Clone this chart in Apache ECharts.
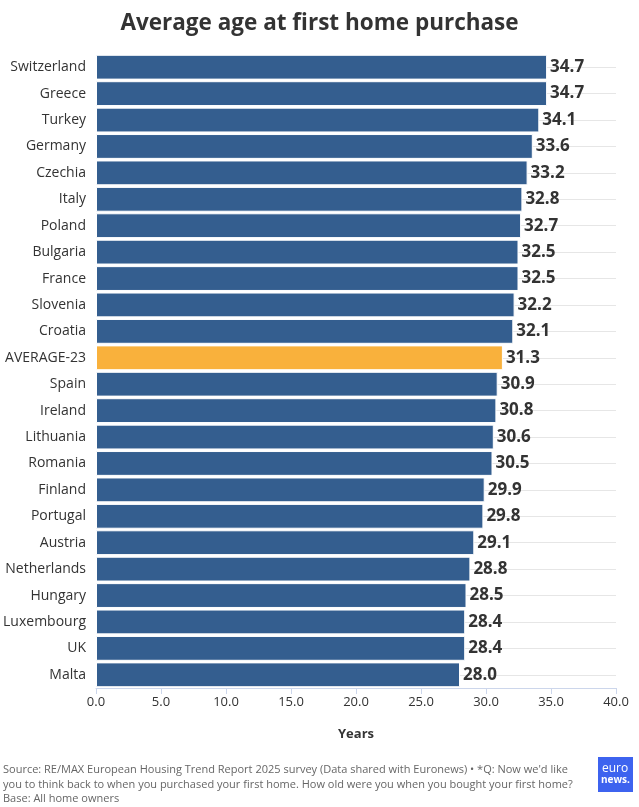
<!DOCTYPE html>
<html><head><meta charset="utf-8">
<script src="https://cdn.jsdelivr.net/npm/echarts@6/dist/echarts.min.js"></script>
<style>html,body{margin:0;padding:0;background:#fff}#c{width:639px;height:807px}</style>
</head><body><div id="c"></div>
<script>
const categories = ["Switzerland","Greece","Turkey","Germany","Czechia","Italy","Poland","Bulgaria","France","Slovenia","Croatia","AVERAGE-23","Spain","Ireland","Lithuania","Romania","Finland","Portugal","Austria","Netherlands","Hungary","Luxembourg","UK","Malta"];
const values = [34.7,34.7,34.1,33.6,33.2,32.8,32.7,32.5,32.5,32.2,32.1,31.3,30.9,30.8,30.6,30.5,29.9,29.8,29.1,28.8,28.5,28.4,28.4,28.0];
const highlight = "AVERAGE-23";
const F = '"Open Sans", sans-serif';
const chart = echarts.init(document.getElementById('c'));
chart.setOption({
  animation: false,
  title: {text: 'Average age at first home purchase', left: 'center', top: 7,
    textStyle: {fontFamily: F, fontSize: 22.5, fontWeight: 'bold', color: '#333'}},
  grid: {left: 96, right: 23, top: 54, bottom: 119, containLabel: false},
  xAxis: {type: 'value', min: 0, max: 40, interval: 5,
    name: 'Years', nameLocation: 'middle', nameGap: 40,
    nameTextStyle: {fontFamily: F, fontSize: 13, fontWeight: 'bold', color: '#333'},
    axisLine: {show: true, lineStyle: {color: '#ccd6eb'}},
    axisTick: {show: true, length: 6, lineStyle: {color: '#ccd6eb'}},
    splitLine: {show: false},
    axisLabel: {fontFamily: F, fontSize: 13, color: '#333', margin: 8, formatter: v => v.toFixed(1)}},
  yAxis: {type: 'category', data: categories, inverse: true,
    axisLine: {show: false}, axisTick: {show: false}, splitLine: {show: false},
    axisLabel: {fontFamily: F, fontSize: 14, color: '#333', margin: 10}},
  series: [
    {type: 'line', z: 1, data: [], silent: true, symbol: 'none',
      markLine: {z: 1, silent: true, symbol: 'none', label: {show: false},
        lineStyle: {color: '#e6e6e6', width: 1, type: 'solid'},
        data: categories.map(c => ({yAxis: c}))}},
    {type: 'bar', z: 3, barCategoryGap: '6%',
      data: values.map((v, i) => ({value: v, itemStyle: {color: categories[i] === highlight ? '#f9b13c' : '#345e8f'}})),
      itemStyle: {borderColor: '#ffffff', borderWidth: 1},
      label: {show: true, position: 'right', distance: 3, formatter: p => p.value.toFixed(1),
        fontFamily: F, fontSize: 17, fontWeight: 'bold', color: '#333'}}
  ],
  graphic: [
    {type: 'text', left: 3, top: 763, style: {text: 'Source: RE/MAX European Housing Trend Report 2025 survey (Data shared with Euronews) • *Q: Now we\'d like\nyou to think back to when you purchased your first home. How old were you when you bought your first home?\nBase: All home owners', font: '11px ' + F, fill: '#666', lineHeight: 14.5}},
    {type: 'rect', shape: {x: 598, y: 757, width: 35, height: 35}, style: {fill: '#3d63ef'}},
    {type: 'text', left: 602, top: 763, style: {text: 'euro', font: '12px ' + F, fill: '#fff'}},
    {type: 'text', left: 601, top: 775, style: {text: 'news.', font: 'bold 10px ' + F, fill: '#fff'}}
  ]
});
</script></body></html>
